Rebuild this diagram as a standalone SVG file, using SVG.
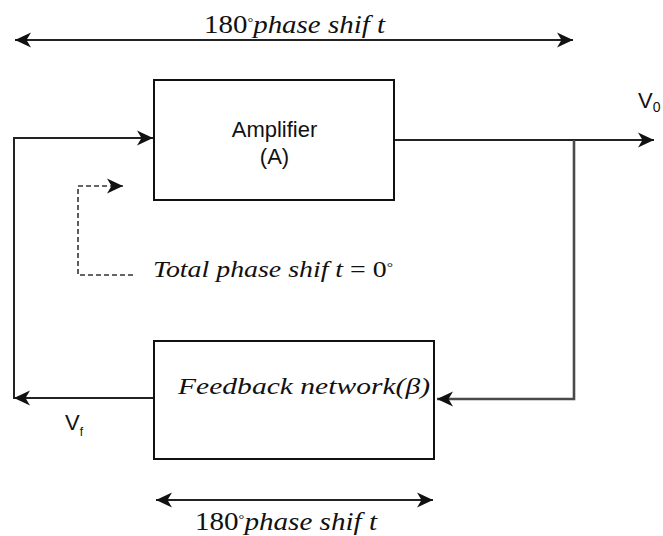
<svg xmlns="http://www.w3.org/2000/svg" width="663" height="536" viewBox="0 0 663 536">
<style>
.box{fill:#fff;stroke:#111;stroke-width:2}
.ln{fill:none;stroke:#222;stroke-width:2}
.fb{fill:none;stroke:#4a4a4a;stroke-width:2.6}
.dash{fill:none;stroke:#333;stroke-width:1.6;stroke-dasharray:5,3}
.math{font-family:"Liberation Serif","Times New Roman",serif;fill:#111}
.it{font-style:italic}
.deg{font-size:13px}
.sans{font-family:"Liberation Sans",Arial,sans-serif;fill:#111}
</style>
<defs>
<marker id="ah" markerUnits="userSpaceOnUse" markerWidth="17" markerHeight="16" refX="16" refY="8" orient="auto-start-reverse">
<path d="M0,0.5 L16,8 L0,15.5 L4.5,8 Z" fill="#111"/>
</marker>
</defs>
<rect width="663" height="536" fill="#fff"/>
<g id="connectors">
<line class="ln" x1="15" y1="40" x2="573" y2="40" marker-start="url(#ah)" marker-end="url(#ah)"/>
<polyline class="ln" points="14,399 14,138 153,138" marker-end="url(#ah)"/>
<line class="ln" x1="394" y1="140" x2="654" y2="140" marker-end="url(#ah)"/>
<polyline class="fb" points="574,140 574,399 437,399" marker-end="url(#ah)"/>
<line class="ln" x1="153" y1="398" x2="14" y2="398" marker-end="url(#ah)"/>
<polyline class="dash" points="133,275 78,275 78,186 123,186" marker-end="url(#ah)"/>
<line class="ln" x1="156" y1="500" x2="433" y2="500" marker-start="url(#ah)" marker-end="url(#ah)"/>
</g>
<g id="amplifier">
<rect class="box" x="154" y="80" width="240" height="120"/>
<text class="sans" x="274.5" y="137" font-size="22" text-anchor="middle">Amplifier</text>
<text class="sans" x="274.5" y="164" font-size="22" text-anchor="middle">(A)</text>
</g>
<g id="feedback">
<rect class="box" x="154" y="341" width="280" height="118"/>
<text class="math it" x="178" y="394" font-size="23" textLength="252" lengthAdjust="spacingAndGlyphs">Feedback network(β)</text>
</g>
<g id="labels">
<text class="math" x="204" y="33" font-size="26" textLength="181" lengthAdjust="spacingAndGlyphs">180<tspan class="deg" dy="-7">°</tspan><tspan class="it" dy="7">phase shif t</tspan></text>
<text class="math" x="195" y="530" font-size="26" textLength="182" lengthAdjust="spacingAndGlyphs">180<tspan class="deg" dy="-7">°</tspan><tspan class="it" dy="7">phase shif t</tspan></text>
<text class="math" x="153" y="277" font-size="23" textLength="240" lengthAdjust="spacingAndGlyphs"><tspan class="it">Total phase shif t</tspan> = 0<tspan class="deg" dy="-6">°</tspan></text>
<text class="sans" x="638" y="108" font-size="22">V<tspan font-size="14" dy="4">0</tspan></text>
<text class="sans" x="65" y="430" font-size="22">V<tspan font-size="12" dy="6">f</tspan></text>
</g>
</svg>
